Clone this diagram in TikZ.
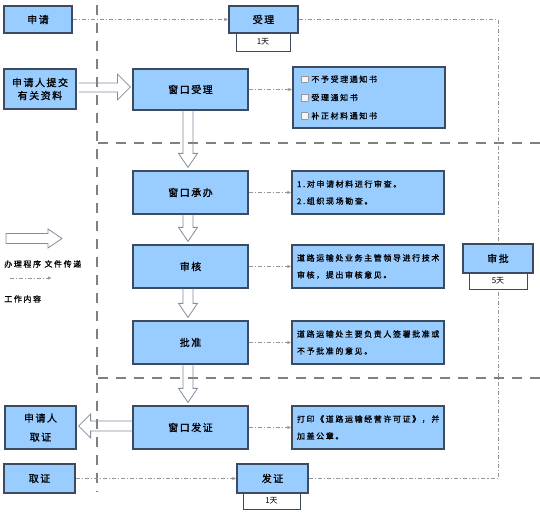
\documentclass[tikz,border=0pt]{standalone}
\usepackage{fontspec}
\setmainfont{Noto Sans CJK SC}
\newfontfamily\mainb[FakeBold=1.2,LetterSpace=15]{Noto Sans CJK SC}
\newfontfamily\smallb[FakeBold=1,LetterSpace=20]{Noto Sans CJK SC}
\newfontfamily\plainf{Noto Sans CJK SC}
\usetikzlibrary{calc,arrows.meta}
\definecolor{boxfill}{RGB}{153,204,255}
\definecolor{boxline}{RGB}{60,75,95}
\definecolor{dgray}{RGB}{128,128,128}
\definecolor{lgray}{RGB}{150,150,150}
\definecolor{hgray}{RGB}{130,140,155}
\newcommand\ckbox{{\setlength\fboxsep{0pt}\setlength\fboxrule{0.4pt}\fcolorbox{gray!80}{gray!8}{\rule{0pt}{4.5pt}\rule{4.5pt}{0pt}}}\hspace{2.5pt}}
\newcommand\hdown[2]{%
 \draw[hollow] ($(#1.south)+(-7.5,0)$) -- ($(#2.north)+(-7.5,-17)$) -- ($(#2.north)+(-12,-17)$) -- ($(#2.north)+(-2.5,-3)$) -- ($(#2.north)+(7,-17)$) -- ($(#2.north)+(2.5,-17)$) -- ($(#1.south)+(2.5,0)$);}
\begin{document}
\begin{tikzpicture}[x=0.75pt,y=-0.75pt,
 sz/.style 2 args={minimum width=#1*0.75pt, minimum height=#2*0.75pt},
 bx/.style={draw=boxline, fill=boxfill, line width=0.9pt, inner sep=0pt, align=center, font=\mainb\fontsize{7.5}{10}\selectfont},
 descbox/.style={draw=boxline, fill=boxfill, line width=0.9pt, inner xsep=3.75pt, inner ysep=0pt, align=left, text width=106.5pt, font=\smallb\fontsize{6}{12.75}\selectfont},
 daybox/.style={draw=boxline, fill=white, line width=0.7pt, inner sep=0pt, font=\plainf\fontsize{6}{7}\selectfont},
 longdash/.style={draw=dgray, line width=1.5pt, dash pattern=on 7.5pt off 6pt},
 flow/.style={draw=lgray, line width=0.6pt, dash pattern=on 3pt off 1.5pt on 0.8pt off 1.5pt},
 flowarr/.style={flow, -{Latex[length=3pt,width=2.6pt]}},
 hollow/.style={draw=hgray, fill=none, line width=0.6pt, line join=miter},
 lgtext/.style={anchor=west, inner sep=0pt, font=\smallb\fontsize{6}{7}\selectfont}
]
\useasboundingbox (0,0) rectangle (540,513);

% separators
\draw[longdash] (97,5) -- (97,492);
\draw[longdash] (98,143) -- (540,143);
\draw[longdash] (98,378) -- (540,378);

% nodes
\node[bx, sz={68}{27}] (shenqing) at (38,19.5) {申请};
\node[bx, sz={69}{27}] (shouli) at (263.5,19.5) {受理};
\node[daybox, sz={54}{18}] (day1a) at (263,42) {1天};
\node[bx, sz={72}{40}, font=\mainb\fontsize{7.5}{9.75}\selectfont] (tijiao) at (40,89) {申请人提交\\有关资料};
\node[bx, sz={115}{41}] (wsl) at (190.5,89.5) {窗口受理};
\node[descbox, sz={152}{61}, inner xsep=6pt, text width=102pt, font=\smallb\fontsize{6}{13.75}\selectfont] (chk) at (369,97.5) {\ckbox 不予受理通知书\\\ckbox 受理通知书\\\ckbox 补正材料通知书};
\node[bx, sz={115}{43}] (wcb) at (190.5,192.5) {窗口承办};
\node[descbox, sz={152}{43}] (d1) at (368,192.5) {1.对申请材料进行审查。\\2.组织现场勘查。};
\node[bx, sz={115}{43}] (shenhe) at (190.5,266.5) {审核};
\node[descbox, sz={152}{43}] (d2) at (368,266.5) {道路运输处业务主管领导进行技术\\审核，提出审核意见。};
\node[bx, sz={115}{43}] (pizhun) at (190.5,342.5) {批准};
\node[descbox, sz={152}{43}] (d3) at (368,342.5) {道路运输处主要负责人签署批准或\\不予批准的意见。};
\node[bx, sz={115}{43}] (wfz) at (190.5,427.5) {窗口发证};
\node[descbox, sz={152}{43}] (d4) at (368,427.5) {打印《道路运输经营许可证》，并\\加盖公章。};
\node[bx, sz={71}{43}, font=\mainb\fontsize{7.5}{14.25}\selectfont] (sqrqz) at (40.5,427.5) {申请人\\取证};
\node[bx, sz={71}{29}] (quzheng) at (39.5,478.5) {取证};

% right-hand flow line (behind 审批 and 发证)
\coordinate (rt) at (498,20);
\node[bx, sz={71}{29}] (fazheng) at (272.5,478.5) {发证};
\draw[flow] (shouli.east) -- (shouli.east -| rt) -- (fazheng.east -| rt) -- (fazheng.east);
\node[bx, sz={70}{29}] (shenpi) at (498,258.5) {审批};
\node[daybox, sz={58}{16}] (day5) at (498,281) {5天};
\node[daybox, sz={57}{16}] (day1b) at (271.5,501) {1天};

% dashed arrows
\draw[flowarr] (shenqing.east) -- (shouli.west);
\draw[flowarr] (wsl.east) -- (wsl.east -| chk.west);
\draw[flowarr] (wcb.east) -- (d1.west);
\draw[flowarr] (shenhe.east) -- (d2.west);
\draw[flowarr] (pizhun.east) -- (d3.west);
\draw[flowarr] (wfz.east) -- (d4.west);
\draw[flowarr] (quzheng.east) -- (fazheng.west);

% hollow arrows
\draw[hollow] ($(tijiao.east)+(2,-6)$) -- ($(wsl.west)+(-15,-6.5)$) -- ($(wsl.west)+(-15,-15.5)$) -- ($(wsl.west)+(-2,-2.5)$) -- ($(wsl.west)+(-15,10.5)$) -- ($(wsl.west)+(-15,2.5)$) -- ($(tijiao.east)+(2,3)$);
\hdown{wsl}{wcb}
\hdown{wcb}{shenhe}
\hdown{shenhe}{pizhun}
\hdown{pizhun}{wfz}
\draw[hollow] ($(wfz.west)+(0,-6.5)$) -- ($(sqrqz.east)+(14,-6.5)$) -- ($(sqrqz.east)+(14,-13.5)$) -- ($(sqrqz.east)+(2,-1.5)$) -- ($(sqrqz.east)+(14,10.5)$) -- ($(sqrqz.east)+(14,3.5)$) -- ($(wfz.west)+(0,3.5)$);

% legend
\coordinate (lgA) at (6,238.5);
\coordinate (lgB) at (62,238.5);
\draw[hollow] ($(lgA)+(0,-5)$) -- ($(lgB)+(-14,-5)$) -- ($(lgB)+(-14,-9.5)$) -- (lgB) -- ($(lgB)+(-14,9.5)$) -- ($(lgB)+(-14,5)$) -- ($(lgA)+(0,5)$) -- cycle;
\node[lgtext] (lg1) at (4,264) {办理程序 文件传递};
\coordinate (lgC) at (10,278);
\coordinate (lgD) at (52,278);
\draw[flowarr] (lgC) -- (lgD);
\node[lgtext] (lg2) at (4,299) {工作内容};
\end{tikzpicture}
\end{document}
